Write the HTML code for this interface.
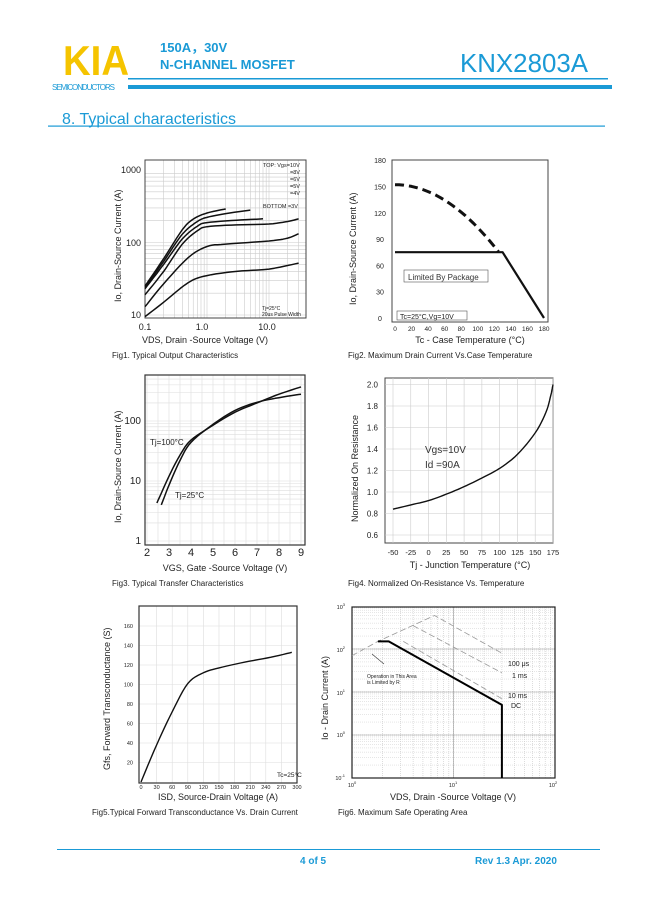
<!DOCTYPE html>
<html><head><meta charset="utf-8"><style>
html,body{margin:0;padding:0;background:#fff}
svg{display:block}
text{font-family:"Liberation Sans","Noto Sans CJK SC",sans-serif}
</style></head><body>
<svg id="s" width="649" height="917" viewBox="0 0 649 917" xmlns="http://www.w3.org/2000/svg">
<text x="63" y="75" font-size="42" font-weight="bold" fill="#f5c400" textLength="66" lengthAdjust="spacingAndGlyphs">KIA</text>
<text x="52" y="90" font-size="8" fill="#1a9ad6" textLength="63">SEMICONDUCTORS</text>
<text x="160" y="52" font-size="13" font-weight="bold" fill="#1a9ad6">150A，30V</text>
<text x="160" y="69" font-size="13" font-weight="bold" fill="#1a9ad6">N-CHANNEL MOSFET</text>
<text x="460" y="72" font-size="26" fill="#1a9ad6" textLength="128" lengthAdjust="spacingAndGlyphs">KNX2803A</text>
<rect x="128" y="78" width="480" height="1.5" fill="#1a9ad6"/>
<rect x="128" y="85" width="484" height="4" fill="#1a9ad6"/>
<text x="62" y="124" font-size="16" fill="#1a9ad6">8. Typical characteristics</text>
<rect x="48" y="125.5" width="557" height="1.2" fill="#1a9ad6"/>
<g id="g"></g>
<rect x="57" y="849" width="543" height="1" fill="#1a9ad6"/>
<text x="300" y="864" font-size="10" font-weight="bold" fill="#1a9ad6">4 of 5</text>
<text x="475" y="864" font-size="10" font-weight="bold" fill="#1a9ad6">Rev 1.3 Apr. 2020</text>
</svg>
<script>
var g=document.getElementById('g'),h='';
function L(x1,y1,x2,y2,c,w,d){h+='<line x1="'+x1+'" y1="'+y1+'" x2="'+x2+'" y2="'+y2+'" stroke="'+(c||'#bbb')+'" stroke-width="'+(w||0.6)+'"'+(d?' stroke-dasharray="'+d+'"':'')+'/>';}
function T(x,y,s,fs,a,rot,c){h+='<text x="'+x+'" y="'+y+'" font-size="'+fs+'" fill="'+(c||'#222')+'"'+(a?' text-anchor="'+a+'"':'')+(rot?' transform="rotate(-90 '+x+' '+y+')"':'')+'>'+s+'</text>';}
function P(pts,c,w,d){h+='<polyline fill="none" stroke-linejoin="round" points="'+pts.map(function(p){return p[0].toFixed(1)+','+p[1].toFixed(1)}).join(' ')+'" stroke="'+(c||'#111')+'" stroke-width="'+(w||1.6)+'"'+(d?' stroke-dasharray="'+d+'"':'')+'/>';}
function B(x,y,w,hh,c,sw){h+='<rect x="'+x+'" y="'+y+'" width="'+w+'" height="'+hh+'" fill="none" stroke="'+(c||'#333')+'" stroke-width="'+(sw||1)+'"/>';}
var lg=Math.log10;
// smooth interpolation (Catmull-Rom) in pixel space
function S(pts,n){var out=[];n=n||6;for(var i=0;i<pts.length-1;i++){var p0=pts[Math.max(0,i-1)],p1=pts[i],p2=pts[i+1],p3=pts[Math.min(pts.length-1,i+2)];for(var k=0;k<n;k++){var t=k/n,t2=t*t,t3=t2*t;out.push([0.5*((2*p1[0])+(-p0[0]+p2[0])*t+(2*p0[0]-5*p1[0]+4*p2[0]-p3[0])*t2+(-p0[0]+3*p1[0]-3*p2[0]+p3[0])*t3),0.5*((2*p1[1])+(-p0[1]+p2[1])*t+(2*p0[1]-5*p1[1]+4*p2[1]-p3[1])*t2+(-p0[1]+3*p1[1]-3*p2[1]+p3[1])*t3)]);}}out.push(pts[pts.length-1]);return out;}
// Fig1
(function(){var X=function(v){return 145+(lg(v)+1)*62},Y=function(v){return 315-(lg(v)-1)*72.5};
for(var d=0.1;d<30;d*=10)for(var k=1;k<10;k++){var v=d*k;if(v>31)break;L(X(v),160,X(v),318,'#ccc');}
for(var d=10;d<1000;d*=10)for(var k=1;k<10;k++){var v=d*k;if(Y(v)<160)break;L(145,Y(v),306,Y(v),'#ccc');}
B(145,160,161,158,'#444');
T(141,173,'1000',9,'end');T(141,246,'100',9,'end');T(141,318,'10',9,'end');
T(145,330,'0.1',9,'middle');T(202,330,'1.0',9,'middle');T(267,330,'10.0',9,'middle');
T(205,343,'VDS, Drain -Source Voltage (V)',9,'middle');T(121,302,'Io, Drain-Source Current (A)',9,'',1);
T(112,358,'Fig1. Typical Output Characteristics',8);
T(263,167,'TOP: Vgs=10V',5.5);[[' =8V',174],[' =6V',181],[' =5V',188],[' =4V',195]].forEach(function(a){T(290,a[1],a[0],5.5)});
T(263,208,'BOTTOM   =3V',5.5);T(262,310,'Tj=25°C',5);T(262,316,'20us Pulse Width',5);
var cs=[
[[0.1,25],[0.2,60],[0.4,150],[0.6,210],[1,255],[2,290]],
[[0.1,24],[0.2,55],[0.4,130],[0.7,195],[1,222],[2,250],[5,280]],
[[0.1,23],[0.2,50],[0.4,112],[0.7,168],[1,188],[3,203],[8,212]],
[[0.1,19],[0.2,40],[0.4,95],[0.7,145],[1,165],[3,175],[10,180],[20,195],[30,212]],
[[0.1,13],[0.2,27],[0.5,62],[1,88],[2,95],[10,105],[20,115],[30,132]],
[[0.1,9.5],[0.2,15],[0.5,28],[1,35],[3,40],[10,43],[30,52]]];
cs.forEach(function(c){P(S(c.map(function(p){return [X(p[0]),Y(p[1])]})),'#111',1.5);});
})();
// Fig2
(function(){var X=function(v){return 395+v*0.828},Y=function(v){return 318-v*0.877};
B(392,160,156,162,'#444');
[0,30,60,90,120,150,180].forEach(function(v){T(380,Y(v)+3,v,7,'middle')});
[0,20,40,60,80,100,120,140,160,180].forEach(function(v){T(X(v),331,v,6.5,'middle')});
var p=[];for(var t=0;t<=125;t+=5){p.push([X(t),Y(152-0.0049*t*t)]);}P(p,'#111',3,'9,5');
P([[X(0),Y(75)],[X(130),Y(75)],[X(180),Y(0)]],'#111',2.2);
B(404,270,84,12,'#555',0.6);T(408,280,'Limited By Package',8,'','', '#333');
B(397,311,70,9,'#555',0.6);T(400,319,'Tc=25°C,Vg=10V',7);
T(470,343,'Tc - Case Temperature (°C)',9,'middle');T(356,305,'Io, Drain-Source Current (A)',9,'',1);
T(348,358,'Fig2. Maximum Drain Current Vs.Case Temperature',8);
})();
// Fig3
(function(){var X=function(v){return 147+(v-2)*22},Y=function(v){return 541-lg(v)*60};
for(var v=2;v<=9;v+=0.5)L(X(v),375,X(v),545,'#ddd');
for(var d=1;d<1000;d*=10)for(var k=1;k<10;k++){var v=d*k;if(Y(v)<375)break;L(145,Y(v),305,Y(v),'#ddd');}
B(145,375,160,170,'#333',1.2);
T(141,424,'100',10,'end');T(141,484,'10',10,'end');T(141,544,'1',10,'end');
for(var v=2;v<=9;v++)T(X(v),556,v,11,'middle');
T(225,571,'VGS, Gate -Source Voltage (V)',9,'middle');T(121,523,'Io, Drain-Source Current (A)',9,'',1);
T(112,586,'Fig3. Typical Transfer Characteristics',8);
T(150,445,'Tj=100°C',8);T(175,498,'Tj=25°C',8);
var a=[[2.45,4.3],[3,12],[3.5,27],[4,48],[5,85],[6,140],[7,200],[8,280],[9,370]];
var b=[[2.65,4],[3,8.5],[3.5,22],[4,44],[5,88],[6,150],[7,205],[8,245],[9,280]];
P(S(a.map(function(p){return [X(p[0]),Y(p[1])]})),'#111',1.5);
P(S(b.map(function(p){return [X(p[0]),Y(p[1])]})),'#111',1.5);
})();
// Fig4
(function(){var X=function(v){return 393+(v+50)*0.711},Y=function(v){return 492-(v-1)*107.5};
B(385,378,168,165,'#444');
for(var v=-50;v<=175;v+=25)L(X(v),378,X(v),543,'#ccc');
for(var v=0.6;v<=2.01;v+=0.2)L(385,Y(v),553,Y(v),'#ccc');
['2.0','1.8','1.6','1.4','1.2','1.0','0.8','0.6'].forEach(function(s){T(378,Y(+s)+3,s,8,'end')});
[-50,-25,0,25,50,75,100,125,150,175].forEach(function(v){T(X(v),555,v,7.5,'middle')});
T(470,568,'Tj - Junction Temperature (°C)',9,'middle');T(358,522,'Normalized On Resistance',9,'',1);
T(348,586,'Fig4. Normalized On-Resistance Vs. Temperature',8);
T(425,453,'Vgs=10V',10,'','','#333');T(425,468,'Id =90A',10,'','','#333');
var pts=[[-50,0.84],[-25,0.88],[0,0.92],[25,0.98],[50,1.05],[75,1.13],[100,1.22],[125,1.35],[150,1.55],[165,1.74],[172,1.9],[175,2.0]];
P(S(pts.map(function(p){return [X(p[0]),Y(p[1])]})),'#111',1.4);
})();
// Fig5
(function(){var X=function(v){return 141+v*0.52},Y=function(v){return 782-v*0.975};
for(var v=30;v<=300;v+=30)L(X(v),606,X(v),783,'#ddd');
for(var v=20;v<=160;v+=20)L(139,Y(v),297,Y(v),'#ddd');
B(139,606,158,177,'#333',1.2);
for(var v=20;v<=160;v+=20)T(133,Y(v)+2,v,5.5,'end');
for(var v=0;v<=300;v+=30)T(X(v),789,v,5.5,'middle');
T(218,800,'ISD, Source-Drain Voltage (A)',9,'middle');T(110,770,'Gfs, Forward Transconductance (S)',9,'',1);
T(92,815,'Fig5.Typical Forward Transconductance Vs. Drain Current',8);T(277,777,'Tc=25°C',6.5);
P(S([[X(0),Y(0)],[X(30),Y(38)],[X(60),Y(72)],[X(90),Y(101)],[X(120),Y(112)],[X(150),Y(117)],[X(200),Y(123)],[X(250),Y(128)],[X(290),Y(133)]]),'#111',1.4);
})();
// Fig6
(function(){var X=function(v){return 352+lg(v)*101.5},Y=function(v){return 735-lg(v)*43};
for(var k=1;k<=100;k++){if(k>10&&k%10)continue;L(X(k),607,X(k),778,'#bbb',0.5,'1,1');}
for(var d=0.1;d<1000;d*=10)for(var k=1;k<10;k++){var v=d*k;L(352,Y(v),555,Y(v),k==1?'#999':'#ccc',0.5,'1,1');}
for(var d=0.1;d<1000;d*=10)L(352,Y(d),555,Y(d),'#999',0.6);
for(var d=1;d<=100;d*=10)L(X(d),607,X(d),778,'#999',0.6);
B(352,607,203,171,'#222',1.2);
['10<tspan dy="-3" font-size="4">3</tspan>',607,'10<tspan dy="-3" font-size="4">2</tspan>',650,'10<tspan dy="-3" font-size="4">1</tspan>',693,'10<tspan dy="-3" font-size="4">0</tspan>',735,'10<tspan dy="-3" font-size="4">-1</tspan>',778].forEach(function(s,i,a){if(i%2==0)T(345,a[i+1]+2,s,5.5,'end')});
T(352,787,'10<tspan dy="-3" font-size="4">0</tspan>',5.5,'middle');T(453,787,'10<tspan dy="-3" font-size="4">1</tspan>',5.5,'middle');T(553,787,'10<tspan dy="-3" font-size="4">2</tspan>',5.5,'middle');
T(453,800,'VDS, Drain -Source Voltage (V)',9,'middle');T(328,740,'Io - Drain Current (A)',9,'',1);
T(338,815,'Fig6. Maximum Safe Operating Area',8);
P([[X(1),Y(70)],[X(1.8),Y(150)],[X(6.5),Y(600)],[X(30),Y(80)]],'#999',0.8,'6,3');
P([[X(4),Y(350)],[X(30),Y(28)]],'#999',0.8,'6,3');
P([[X(3.2),Y(150)],[X(30),Y(7)]],'#999',0.8,'6,3');
P([[X(1.8),Y(150)],[X(2.3),Y(150)],[X(30),Y(5)],[X(30),Y(0.1)]],'#000',2);
L(372,654,384,664,'#333',0.6);T(367,678,'Operation in This Area',5);T(367,684,'is Limited by R',5);
T(508,666,'100 μs',7);T(512,678,'1 ms',7);T(508,698,'10 ms',7);T(511,708,'DC',7);
})();
g.innerHTML=h;
</script>
</body></html>
